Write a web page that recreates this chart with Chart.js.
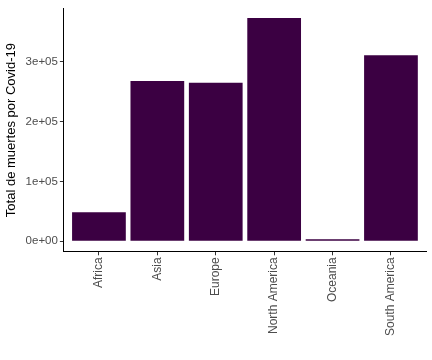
<!DOCTYPE html>
<html>
<head>
<meta charset="utf-8">
<script src="https://cdn.jsdelivr.net/npm/chart.js@4"></script>
<style>
  body { margin: 0; background: #fff; }
  #wrap { width: 432px; height: 360px; }
</style>
</head>
<body>
<div id="wrap"><canvas id="myChart" width="432" height="360"></canvas></div>
<script>
// continentes y total de muertes
let continents = ["Africa", "Asia", "Europe", "North America", "Oceania", "South America"];
let deaths = [48500, 268000, 265000, 373000, 3500, 311000];
let yTicks = [0, 100000, 200000, 300000];

function sciLabel(v) {
    if (v === 0) return "0e+00";
    let e = Math.floor(Math.log10(Math.abs(v)));
    let m = Math.round(v / Math.pow(10, e));
    return m + "e+" + String(e).padStart(2, "0");
}

const ctx = document.getElementById('myChart').getContext('2d');
const myChart = new Chart(ctx, {
    type: 'bar',
    data: {
        datasets: [{
            data: deaths.map((d, i) => ({ x: i, y: d })),
            backgroundColor: '#3b0042',
            borderWidth: 0,
            categoryPercentage: 0.92,
            barPercentage: 1
        }]
    },
    options: {
        responsive: false,
        animation: false,
        layout: { padding: { left: 4, right: 6, top: 8, bottom: 22 } },
        plugins: { legend: { display: false }, tooltip: { enabled: false } },
        scales: {
            x: {
                type: 'linear',
                offset: false,
                min: -0.6,
                max: 5.6,
                afterBuildTicks: scale => {
                    scale.ticks = continents.map((c, i) => ({ value: i }));
                },
                ticks: {
                    autoSkip: false,
                    maxRotation: 90,
                    minRotation: 90,
                    color: '#4d4d4d',
                    font: { family: 'Liberation Sans', size: 12 },
                    padding: 2,
                    callback: (v) => continents[v]
                },
                grid: { offset: false, drawOnChartArea: false, drawTicks: true, tickLength: 4, color: '#333' },
                border: { color: '#000', width: 1 }
            },
            y: {
                min: -16700,
                max: 388300,
                afterBuildTicks: scale => {
                    scale.ticks = yTicks.map(v => ({ value: v }));
                },
                ticks: {
                    color: '#4d4d4d',
                    font: { family: 'Liberation Sans', size: 11.5 },
                    padding: 2,
                    callback: (v) => sciLabel(v)
                },
                grid: { drawOnChartArea: false, drawTicks: true, tickLength: 4, color: '#333' },
                border: { color: '#000', width: 1 },
                title: {
                    display: true,
                    text: 'Total de muertes por Covid-19',
                    color: '#000',
                    font: { family: 'Liberation Sans', size: 13 },
                    padding: { top: 0, bottom: 4 }
                }
            }
        }
    }
});
</script>
</body>
</html>
